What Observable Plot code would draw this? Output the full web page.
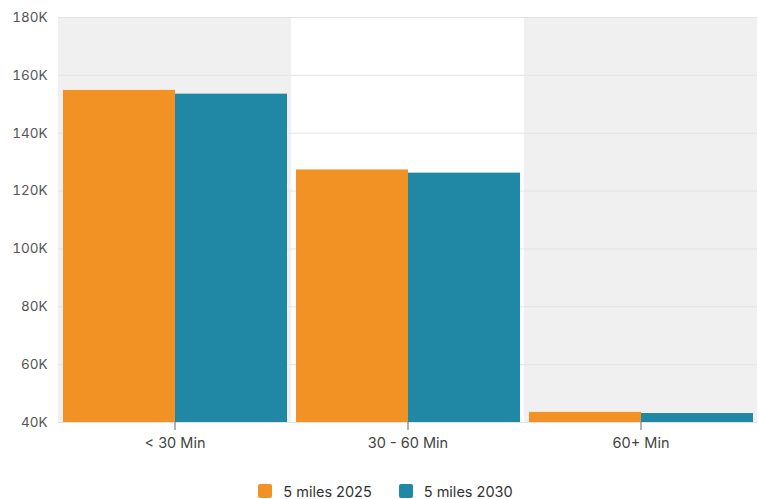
<!DOCTYPE html>
<html>
<head>
<meta charset="utf-8">
<script src="https://cdn.jsdelivr.net/npm/d3@7"></script>
<script src="https://cdn.jsdelivr.net/npm/@observablehq/plot@0.6"></script>
<style>
  html, body { margin: 0; padding: 0; background: #fff; }
  body { width: 759px; height: 499px; overflow: hidden; font-family: Inter, "Noto Sans", sans-serif; }
  #legend { display: flex; justify-content: center; align-items: center; gap: 27px; height: 20px; margin-top: 16px; font-size: 14.5px; color: #333; margin-left: 12px; }
  #legend .item { display: flex; align-items: center; gap: 11px; }
  #legend .sw { width: 14px; height: 14px; border-radius: 2px; }
</style>
</head>
<body>
<div id="chart"></div>
<div id="legend"></div>
<script>
const categories = ["< 30 Min", "30 - 60 Min", "60+ Min"];
const series = ["5 miles 2025", "5 miles 2030"];
const values2025 = [154800, 127300, 43500];
const values2030 = [153500, 126200, 43100];
const shadedCategories = ["< 30 Min", "60+ Min"];
const yTicks = [40000, 60000, 80000, 100000, 120000, 140000, 160000, 180000];
const colors = ["#F39224", "#2087A5"];

const data = [];
categories.forEach((c, i) => {
  data.push({cat: c, series: series[0], value: values2025[i]});
  data.push({cat: c, series: series[1], value: values2030[i]});
});

const chart = Plot.plot({
  width: 759,
  height: 465,
  marginTop: 17,
  marginBottom: 43,
  marginLeft: 58,
  marginRight: 2,
  style: {fontFamily: "Inter, 'Noto Sans', sans-serif", fontSize: "13px", color: "#555", background: "#fff"},
  fx: {domain: categories, padding: 0, label: null, axis: null},
  x: {domain: series, axis: null, paddingInner: 0, paddingOuter: 0.04},
  y: {domain: [40000, 180000], label: null},
  color: {domain: series, range: colors},
  marks: [
    Plot.rect(shadedCategories, {fx: d => d, fill: "#f0f0f0"}),
    Plot.gridY(yTicks, {stroke: "#e3e3e3", strokeOpacity: 1}),
    Plot.axisY(yTicks, {tickSize: 0, tickPadding: 11, tickFormat: d => d / 1000 + "K", fill: "#555", fontSize: 13.5}),
    Plot.barY(data, {fx: "cat", x: "series", y1: 40000, y2: "value", fill: "series"}),
    Plot.axisFx({anchor: "bottom", tickSize: 8, tickPadding: 7, stroke: "#666", fill: "#444", fontSize: 14.5, label: null})
  ]
});
document.getElementById("chart").appendChild(chart);

const legend = document.getElementById("legend");
series.forEach((s, i) => {
  const item = document.createElement("div");
  item.className = "item";
  const sw = document.createElement("div");
  sw.className = "sw";
  sw.style.background = colors[i];
  const t = document.createElement("span");
  t.textContent = s;
  item.appendChild(sw);
  item.appendChild(t);
  legend.appendChild(item);
});
</script>
</body>
</html>
